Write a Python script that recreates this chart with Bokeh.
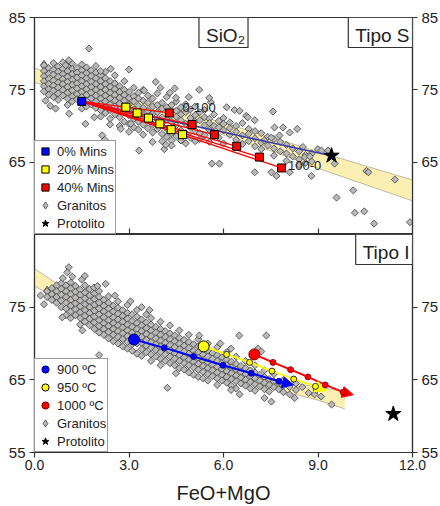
from bokeh.plotting import figure
from bokeh.layouts import column
from bokeh.models import (Range1d, LinearAxis, FixedTicker, Label, Legend, LegendItem,
                          Arrow, NormalHead, ColumnDataSource, Band, PrintfTickFormatter)
from bokeh.core.properties import value
from bokeh.embed import file_html
from bokeh.resources import INLINE

FONT = "Liberation Sans"
INK = "#222222"
EDGE = "#333333"
BAND = "#fbefb2"
GRAN_FILL = "#b9b9b9"
GRAN_LINE = "#404040"

# ---------------- panel "Tipo S" (SiO2) ----------------
mins0_x = [1.50]
mins0_y = [73.4]
mins20_x = [2.90, 3.26, 3.62, 3.98, 4.34, 4.70]
mins20_y = [72.6, 71.8, 71.1, 70.3, 69.5, 68.8]
mins40_x = [4.28, 5.00, 5.71, 6.42, 7.14, 7.84]
mins40_y = [71.8, 70.2, 68.8, 67.2, 65.7, 64.2]
protolito_s_x = [9.43]
protolito_s_y = [65.9]
mix_txt = ["0-100", "100-0"]
mix_lx = [4.70, 8.05]
mix_ly = [72.55, 64.6]

band_s_x = [0, 1, 2, 3, 4, 5, 6, 7, 8, 9, 10, 11, 12]
band_s_mid = [77.0, 75.8, 74.6, 73.4, 72.2, 70.9, 69.6, 68.2, 66.8, 65.3, 63.9, 62.5, 61.1]
band_s_up = [78.0, 76.75, 75.5, 74.25, 73.0, 71.7, 70.45, 69.1, 67.8, 66.45, 65.15, 63.85, 62.55]
band_s_lo = [76.0, 74.85, 73.7, 72.55, 71.4, 70.1, 68.75, 67.3, 65.8, 64.15, 62.65, 61.15, 59.65]

gran_s_cols = [
    (0.30, [78.4, 77.6, 76.9, 76.2, 75.5, 74.8]),
    (0.45, [78.0, 77.2, 76.5, 75.8, 75.1, 74.3]),
    (0.60, [78.7, 77.8, 77.1, 76.3, 75.6, 74.9, 74.0]),
    (0.75, [78.2, 77.5, 76.8, 76.0, 75.3, 74.5, 73.6]),
    (0.90, [78.8, 77.9, 77.2, 76.5, 75.8, 75.0, 74.2]),
    (1.05, [78.3, 77.6, 76.8, 76.1, 75.4, 74.6, 73.8, 72.9]),
    (1.20, [78.6, 77.9, 77.2, 76.4, 75.7, 74.9, 74.1, 73.4]),
    (1.35, [78.0, 77.4, 76.7, 75.9, 75.2, 74.4, 73.7]),
    (1.50, [78.5, 77.7, 77.0, 76.2, 75.5, 74.7, 74.0, 72.4]),
    (1.65, [78.1, 77.3, 76.6, 75.8, 75.1, 74.3, 73.5, 72.7]),
    (1.80, [77.7, 76.9, 76.1, 75.4, 74.6, 73.8, 73.0]),
    (1.95, [78.3, 77.4, 76.6, 75.8, 75.0, 74.2, 73.4, 72.5]),
    (2.10, [77.0, 76.2, 75.4, 74.6, 73.8, 73.0, 72.2, 71.3]),
    (2.25, [77.5, 76.6, 75.8, 75.0, 74.2, 73.4, 72.6, 71.8]),
    (2.40, [76.2, 75.4, 74.6, 73.8, 73.0, 72.2, 71.0, 70.2]),
    (2.55, [77.0, 75.9, 75.1, 74.3, 73.5, 72.7, 71.6]),
    (2.70, [75.5, 74.7, 73.9, 73.1, 72.3, 71.2, 70.0]),
    (2.85, [76.2, 75.0, 74.3, 73.5, 72.0, 70.6]),
    (3.00, [74.7, 73.9, 73.0, 71.5, 70.3, 69.2]),
    (3.15, [75.3, 74.1, 73.4, 72.3, 71.0, 69.8]),
    (3.30, [74.6, 73.8, 72.8, 70.6, 69.5]),
    (3.45, [75.0, 73.5, 72.5, 71.5, 70.2, 68.8]),
    (3.60, [74.2, 73.2, 72.1, 70.8, 69.7]),
    (3.75, [73.8, 72.7, 71.7, 70.2, 69.1, 67.8]),
    (3.90, [74.5, 72.9, 71.9, 70.9, 69.6]),
    (4.05, [73.2, 72.4, 71.2, 70.4, 68.9, 67.9]),
    (4.20, [74.0, 72.6, 70.9, 69.6, 68.5]),
    (4.35, [72.9, 72.0, 70.6, 69.0, 68.0, 67.3]),
    (4.50, [73.4, 72.1, 71.3, 70.1, 68.6]),
    (4.65, [72.6, 71.6, 70.8, 69.4, 68.0]),
    (4.80, [73.0, 71.9, 70.3, 69.0, 67.6]),
    (4.95, [72.3, 71.1, 69.8, 68.4]),
    (5.10, [72.7, 71.5, 70.6, 69.3, 67.9]),
    (5.25, [71.9, 70.8, 69.0, 68.2]),
    (5.40, [72.2, 71.2, 70.1, 68.7]),
    (5.55, [71.0, 70.4, 69.5, 67.8]),
    (5.70, [71.6, 70.0, 69.0]),
    (5.85, [70.7, 69.8, 68.4]),
    (6.00, [71.1, 70.3, 69.4, 67.6]),
    (6.20, [70.5, 69.7, 68.8]),
    (6.40, [70.0, 69.2, 68.1]),
    (6.60, [70.4, 68.7, 67.5]),
    (6.80, [69.6, 68.9, 67.9]),
    (7.00, [69.3, 68.3, 67.2]),
    (7.20, [69.0, 67.7, 66.8]),
    (7.40, [68.5, 67.3]),
    (7.60, [68.2, 66.9, 65.9]),
    (7.80, [67.8, 66.5]),
    (8.00, [67.4, 66.2, 65.2]),
    (8.20, [66.9, 65.8]),
    (8.40, [66.5, 65.4, 64.6]),
    (8.60, [66.0, 64.9]),
    (8.80, [66.2, 65.1]),
]
gran_s_extra = [
    (1.73, 80.7), (0.99, 78.4), (1.09, 79.1), (2.10, 77.6), (2.42, 77.9), (3.00, 77.8),
    (3.85, 76.1), (3.48, 74.9), (4.45, 75.2), (5.23, 75.0), (4.90, 74.0), (5.60, 73.3),
    (6.10, 72.6), (4.49, 73.9), (4.00, 75.3), (4.30, 74.6), (5.55, 73.9),
    (0.35, 73.5), (0.50, 72.8), (0.67, 72.4), (1.62, 70.3), (2.15, 68.7), (2.23, 68.1),
    (2.74, 69.6), (3.06, 70.3), (3.32, 66.6), (4.12, 66.8), (4.17, 67.4), (4.65, 68.0),
    (5.63, 64.8), (5.87, 64.8), (1.10, 71.7), (1.90, 71.2),
    (6.35, 72.2), (6.51, 72.1), (6.72, 71.4), (6.77, 71.2), (6.99, 70.8), (7.57, 72.0),
    (7.62, 69.8), (7.89, 69.8), (8.34, 69.6), (8.10, 69.1), (7.78, 68.7), (7.52, 68.4),
    (7.30, 68.0), (8.52, 67.1), (9.00, 66.8), (9.11, 66.6), (9.32, 66.6), (8.58, 65.7),
    (8.74, 65.8), (9.53, 64.8), (6.99, 63.6), (7.52, 63.6), (7.68, 63.1), (8.10, 63.6),
    (8.79, 63.1), (10.54, 63.8), (10.60, 63.6), (11.44, 62.6), (10.12, 61.1), (9.59, 60.1),
    (10.17, 58.0), (10.47, 58.2), (10.78, 56.5), (11.92, 56.7),
]

# ---------------- panel "Tipo I" ----------------
t900_x = [3.16, 4.12, 5.05, 5.98, 6.88, 7.76]
t900_y = [70.55, 69.4, 68.2, 67.0, 65.9, 64.8]
t950_x = [5.37, 6.10, 6.83, 7.54, 8.23, 8.92]
t950_y = [69.6, 68.5, 67.4, 66.2, 65.1, 64.1]
t1000_x = [6.98, 7.57, 8.13, 8.68, 9.23, 9.80]
t1000_y = [68.5, 67.4, 66.4, 65.4, 64.3, 63.3]
tip_x = [8.22, 9.26, 10.12]
tip_y = [64.3, 63.5, 62.95]
protolito_i_x = [11.39]
protolito_i_y = [60.3]

band_i_x = [0, 1, 2, 3, 4, 5, 6, 7, 8, 9, 9.85]
band_i_mid = [79.1, 76.5, 74.0, 71.7, 69.7, 67.9, 66.4, 65.1, 64.0, 63.1, 62.4]
band_i_up = [80.3, 77.4, 74.7, 72.3, 70.2, 68.4, 66.9, 65.7, 64.7, 64.0, 63.4]
band_i_lo = [77.9, 75.6, 73.3, 71.1, 69.2, 67.4, 65.9, 64.5, 63.3, 62.2, 61.0]

gran_i_cols = [
    (0.40, [77.2, 76.4]),
    (0.55, [77.6, 76.8, 76.0]),
    (0.70, [78.0, 77.2, 76.4, 75.6]),
    (0.85, [78.3, 77.5, 76.7, 75.9, 75.0]),
    (1.00, [78.0, 77.2, 76.4, 75.6, 74.8, 73.9]),
    (1.15, [78.4, 77.6, 76.8, 76.0, 75.2, 74.4, 73.5]),
    (1.30, [77.9, 77.1, 76.3, 75.5, 74.7, 73.9]),
    (1.45, [77.4, 76.7, 75.9, 75.1, 74.3, 73.5, 72.6]),
    (1.60, [78.0, 77.0, 76.2, 75.4, 74.6, 73.8, 73.0]),
    (1.75, [77.5, 76.6, 75.8, 75.0, 74.2, 73.4, 72.5]),
    (1.90, [76.9, 76.1, 75.3, 74.5, 73.7, 72.9, 72.0]),
    (2.05, [77.2, 76.4, 75.6, 74.8, 74.0, 73.2, 72.4, 71.5]),
    (2.20, [76.0, 75.2, 74.4, 73.6, 72.8, 72.0, 71.2]),
    (2.35, [76.5, 75.6, 74.8, 74.0, 73.2, 72.4, 71.6, 70.7]),
    (2.50, [75.2, 74.4, 73.6, 72.8, 72.0, 71.2, 70.3]),
    (2.65, [75.8, 74.9, 74.1, 73.3, 72.5, 71.7, 70.9, 70.0]),
    (2.80, [74.6, 73.8, 73.0, 72.2, 71.4, 70.6, 69.6]),
    (2.95, [75.3, 74.2, 73.4, 72.6, 71.8, 71.0, 70.2, 69.3]),
    (3.10, [74.0, 73.1, 72.3, 71.5, 69.9, 69.0]),
    (3.25, [74.6, 73.7, 72.8, 72.0, 71.2, 70.0, 68.6]),
    (3.40, [73.3, 72.5, 71.7, 70.9, 70.1, 69.2, 68.3]),
    (3.55, [74.0, 72.9, 72.1, 71.3, 70.5, 69.7, 68.8]),
    (3.70, [73.5, 72.6, 71.8, 71.0, 70.2, 69.4, 68.5, 67.6]),
    (3.85, [72.3, 71.5, 70.7, 69.9, 69.1, 68.2]),
    (4.00, [73.0, 72.0, 71.2, 70.4, 69.6, 68.8, 67.9, 67.0]),
    (4.15, [71.7, 70.9, 70.1, 68.5, 67.6]),
    (4.30, [72.5, 71.4, 70.6, 69.8, 69.0, 68.2, 67.3]),
    (4.45, [71.1, 70.3, 69.5, 68.7, 67.9, 67.0]),
    (4.60, [71.8, 70.8, 70.0, 69.2, 68.4, 67.6, 66.6]),
    (4.75, [70.5, 69.7, 68.9, 68.1, 67.3, 66.4]),
    (4.90, [71.2, 70.2, 69.4, 68.6, 67.8, 67.0, 66.0]),
    (5.05, [69.9, 69.0, 68.3, 67.5, 66.7, 65.7]),
    (5.20, [70.6, 69.6, 68.8, 68.0, 67.2, 66.4, 65.4]),
    (5.35, [69.3, 68.5, 67.7, 66.9, 66.1, 65.2]),
    (5.50, [70.0, 69.0, 68.2, 67.4, 66.6, 65.8, 64.9]),
    (5.65, [68.7, 67.9, 67.1, 66.3, 65.5]),
    (5.80, [69.5, 68.4, 67.6, 66.8, 66.0, 65.2, 64.3]),
    (5.95, [68.1, 67.3, 66.5, 65.7, 64.9]),
    (6.10, [68.8, 67.8, 67.0, 66.2, 65.4, 64.6]),
    (6.25, [67.5, 66.7, 65.9, 65.1, 64.2]),
    (6.40, [68.2, 67.2, 66.4, 65.6, 64.8, 63.8]),
    (6.55, [66.9, 66.1, 65.3, 64.5]),
    (6.70, [67.6, 66.6, 65.8, 65.0, 64.2]),
    (6.85, [66.3, 65.5, 64.7, 63.8]),
    (7.00, [67.0, 66.0, 65.2, 64.4, 63.5]),
    (7.15, [65.7, 64.9, 64.1]),
    (7.30, [66.3, 65.4, 64.6, 63.7]),
    (7.45, [65.1, 64.3, 63.4]),
    (7.60, [65.8, 64.8, 64.0]),
    (7.75, [64.5, 63.7]),
    (7.90, [65.0, 64.2, 63.3]),
    (8.10, [64.0, 63.0]),
    (8.30, [64.5, 63.6]),
]
gran_i_extra = [
    (1.09, 80.5), (1.04, 79.8), (1.20, 79.2), (0.19, 76.6), (0.30, 75.4), (0.90, 79.0),
    (1.89, 77.7), (2.26, 78.2), (1.50, 78.8), (1.60, 79.3), (2.00, 77.9), (2.55, 76.6),
    (3.05, 75.8), (3.40, 75.0), (3.65, 74.6), (1.52, 71.8), (2.05, 68.4), (0.88, 73.6),
    (4.22, 63.9), (4.49, 65.9), (6.24, 63.6), (6.51, 63.0), (7.30, 62.5), (7.52, 62.0),
    (8.26, 62.5), (9.43, 61.6), (8.89, 63.0), (5.23, 71.1), (6.50, 71.1), (7.36, 71.1),
    (7.09, 69.3), (7.20, 68.9), (6.24, 69.3), (5.90, 70.0), (8.50, 64.0), (8.70, 63.2),
    (8.95, 63.6), (9.10, 62.7),
]

y_ticks_s = [65, 75, 85]
y_ticks_i = [55, 65, 75]
x_ticks = [0, 3, 6, 9, 12]
x_inner_ticks = [3, 6, 9]
x_title = "FeO+MgO"


def flat(cols, extra):
    xs = [x for x, ys in cols for _ in ys] + [e[0] for e in extra]
    ys = [y for _, ys_ in cols for y in ys_] + [e[1] for e in extra]
    return xs, ys


def base_fig(frame_h, top, bottom):
    p = figure(frame_width=378, frame_height=frame_h, x_range=Range1d(0, 12), y_range=Range1d(55, 85),
               output_backend="svg", toolbar_location=None,
               x_axis_location=None, y_axis_location=None,
               min_border_left=34, min_border_right=28,
               min_border_top=top, min_border_bottom=bottom)
    p.xgrid.visible = False
    p.ygrid.visible = False
    p.outline_line_color = EDGE
    p.outline_line_width = 1.2
    p.background_fill_color = "white"
    p.border_fill_color = "white"
    return p


def y_axis(ticks):
    return LinearAxis(ticker=FixedTicker(ticks=ticks),
                      major_tick_out=5, major_tick_in=0, minor_tick_line_color=None,
                      major_label_standoff=4, major_label_text_font=FONT,
                      major_label_text_font_size="15px", major_label_text_color=INK,
                      axis_line_color=EDGE, axis_line_width=1.2,
                      major_tick_line_color=EDGE, major_tick_line_width=1.2)


def edge_label(p, x, y, txt, left, baseline, dy):
    p.add_layout(Label(x=x, y=y, text=txt, x_offset=-9 if left else 9, y_offset=dy,
                       text_align="right" if left else "left", text_baseline=baseline,
                       text_font=FONT, text_font_size="15px", text_color=INK))


def box_label(p, x, y, txt, anchor):
    p.add_layout(Label(x=x, y=y, text=txt, anchor=anchor, padding=[7, 3, 7, 2],
                       text_font=FONT, text_font_size="19px", text_color=INK,
                       border_line_color=EDGE, border_line_width=1.2,
                       background_fill_color="white", background_fill_alpha=1.0))


def legend(items):
    return Legend(items=items, location="bottom_left", margin=0, padding=1, spacing=0,
                  glyph_width=18, glyph_height=18, label_height=18, label_standoff=3,
                  label_text_font=FONT, label_text_font_size="13px", label_text_color=INK,
                  border_line_color=EDGE, border_line_width=1.2,
                  background_fill_color="white", background_fill_alpha=1.0)


def granites(p, xs, ys):
    # narrow diamond used for the legend entry, hidden under the rotated squares
    proxy = p.scatter(xs[:1], ys[:1], marker="diamond", size=10,
                      fill_color=GRAN_FILL, line_color=GRAN_LINE, line_width=0.8)
    p.scatter(xs, ys, marker="square", size=5, angle=0.785398,
              fill_color=GRAN_FILL, line_color=GRAN_LINE, line_width=0.8)
    return proxy


# ================= top panel =================
p1 = base_fig(217, 17, 0)
p1.add_layout(y_axis(y_ticks_s), "left")
p1.add_layout(y_axis(y_ticks_s), "right")
p1.add_layout(LinearAxis(ticker=FixedTicker(ticks=x_inner_ticks), major_tick_in=6, major_tick_out=0,
                         minor_tick_line_color=None, major_label_text_font_size="1px",
                         major_label_text_color=None, major_label_standoff=0,
                         axis_line_color=EDGE, axis_line_width=1.2,
                         major_tick_line_color=EDGE, major_tick_line_width=1.2), "below")
edge_label(p1, 0, 55, "55", True, "bottom", 2)
edge_label(p1, 12, 55, "55", False, "bottom", 2)

src_bs = ColumnDataSource(dict(x=band_s_x, lo=band_s_lo, up=band_s_up))
p1.add_layout(Band(base="x", lower="lo", upper="up", source=src_bs, fill_color=BAND,
                   fill_alpha=1.0, line_color="black", line_width=0.8, level="underlay"))
p1.line(band_s_x, band_s_mid, line_color="#4d4d4d", line_width=2, level="underlay")

gs_x, gs_y = flat(gran_s_cols, gran_s_extra)
r_gs_leg = granites(p1, gs_x, gs_y)

p1.line([mins0_x[0], protolito_s_x[0]], [mins0_y[0], protolito_s_y[0]],
        line_color="#3b3ba8", line_width=1.5)
p1.multi_line(xs=[[mins0_x[0], x] for x in mins40_x], ys=[[mins0_y[0], y] for y in mins40_y],
              line_color="#ff0000", line_width=1.3)
r_y20 = p1.scatter(mins20_x, mins20_y, marker="square", size=8, fill_color="#ffff00",
                   line_color="black", line_width=1)
r_r40 = p1.scatter(mins40_x, mins40_y, marker="square", size=8, fill_color="#ff0000",
                   line_color="black", line_width=1)
r_b0 = p1.scatter(mins0_x, mins0_y, marker="square", size=8, fill_color="#0000ff",
                  line_color="black", line_width=1)
r_st = p1.scatter(protolito_s_x, protolito_s_y, marker="star", size=16,
                  fill_color="black", line_color="black")
p1.text(x=mix_lx, y=mix_ly, text=mix_txt, text_font=value(FONT), text_font_size="13px",
        text_color=INK, text_baseline="middle", text_align="left")

box_label(p1, 6, 85, "SiO₂", "top_center")
box_label(p1, 12, 85, "Tipo S", "top_right")

p1.add_layout(legend([
    LegendItem(label="0% Mins", renderers=[r_b0]),
    LegendItem(label="20% Mins", renderers=[r_y20]),
    LegendItem(label="40% Mins", renderers=[r_r40]),
    LegendItem(label="Granitos", renderers=[r_gs_leg]),
    LegendItem(label="Protolito", renderers=[r_st]),
]))

# ================= bottom panel =================
p2 = base_fig(218, 0, 53)
p2.add_layout(y_axis(y_ticks_i), "left")
p2.add_layout(y_axis(y_ticks_i), "right")
p2.add_layout(LinearAxis(ticker=FixedTicker(ticks=x_ticks), formatter=PrintfTickFormatter(format="%.1f"),
                         axis_label=x_title, axis_label_text_font=FONT,
                         axis_label_text_font_size="20px", axis_label_text_font_style="normal",
                         axis_label_text_color=INK, axis_label_standoff=9,
                         major_tick_out=5, major_tick_in=0, minor_tick_line_color=None,
                         major_label_standoff=2, major_label_text_font=FONT,
                         major_label_text_font_size="14px", major_label_text_color=INK,
                         axis_line_color=EDGE, axis_line_width=1.2,
                         major_tick_line_color=EDGE, major_tick_line_width=1.2), "below")
edge_label(p2, 0, 85, "85", True, "top", -5)
edge_label(p2, 12, 85, "85", False, "top", -5)

src_bi = ColumnDataSource(dict(x=band_i_x, lo=band_i_lo, up=band_i_up))
p2.add_layout(Band(base="x", lower="lo", upper="up", source=src_bi, fill_color=BAND,
                   fill_alpha=1.0, line_color="black", line_width=0.8, level="underlay"))
p2.line(band_i_x, band_i_mid, line_color="#4d4d4d", line_width=2, level="underlay")

gi_x, gi_y = flat(gran_i_cols, gran_i_extra)
r_gi_leg = granites(p2, gi_x, gi_y)

series = [(t900_x, t900_y, "#0000ff", "#000080"),
          (t950_x, t950_y, "#ffff00", "#000000"),
          (t1000_x, t1000_y, "#ff0000", "#800000")]
big = []
for i, (sx, sy, col, edge) in enumerate(series):
    p2.line(sx, sy, line_color=col, line_width=2)
    p2.add_layout(Arrow(end=NormalHead(size=11, fill_color=col, line_color=col, line_width=1),
                        x_start=sx[-1], y_start=sy[-1], x_end=tip_x[i], y_end=tip_y[i],
                        line_color=col, line_width=2))
    p2.scatter(sx[1:], sy[1:], marker="circle", size=6, fill_color=col, line_color=edge,
               line_width=0.8, level="overlay")
    big.append(p2.scatter(sx[:1], sy[:1], marker="circle", size=11, fill_color=col,
                          line_color=edge, line_width=1, level="overlay"))
r_st2 = p2.scatter(protolito_i_x, protolito_i_y, marker="star", size=16,
                   fill_color="black", line_color="black")

box_label(p2, 12, 85, "Tipo I", "top_right")

p2.add_layout(legend([
    LegendItem(label="900 ºC", renderers=[big[0]]),
    LegendItem(label="950 ºC", renderers=[big[1]]),
    LegendItem(label="1000 ºC", renderers=[big[2]]),
    LegendItem(label="Granitos", renderers=[r_gi_leg]),
    LegendItem(label="Protolito", renderers=[r_st2]),
]))

layout = column(p1, p2, spacing=0)
open("out.html", "w").write(file_html(layout, INLINE))
